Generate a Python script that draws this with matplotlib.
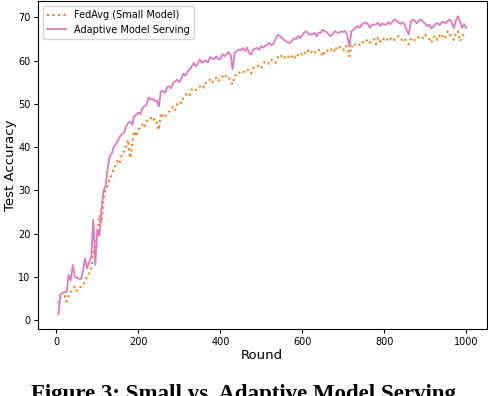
import numpy as np
import matplotlib
matplotlib.use("Agg")
import matplotlib.pyplot as plt

rounds = list(range(5, 1001, 5))

adaptive = [
    1.4, 6.0, 6.3, 6.6, 6.5, 10.5, 9.2, 12.8, 10.0, 9.8,
    9.6, 9.5, 11.5, 14.3, 12.0, 13.5, 14.6, 23.2, 12.8, 21.0,
    19.5, 25.5, 30.0, 31.0, 35.0, 37.9, 38.5, 40.0, 40.8, 41.5,
    42.5, 43.0, 43.3, 44.8, 45.6, 46.0, 45.2, 47.2, 47.5, 48.0,
    47.6, 49.0, 49.5, 49.8, 51.5, 51.0, 51.2, 50.6, 50.8, 49.4,
    52.9, 53.0, 52.5, 53.8, 54.1, 53.6, 54.9, 55.2, 55.6, 55.0,
    55.8, 57.0, 56.5, 57.5, 58.0, 58.6, 59.5, 58.7, 59.2, 60.3,
    59.5, 59.9, 60.0, 59.6, 60.8, 60.6, 60.3, 61.0, 60.4, 60.3,
    61.5, 61.0, 61.4, 62.0, 61.4, 58.0, 61.8, 62.2, 62.6, 62.4,
    62.9, 62.2, 63.0, 61.8, 61.4, 62.5, 62.8, 63.0, 62.5, 63.4,
    63.0, 63.5, 63.7, 64.1, 63.5, 64.0, 65.0, 66.0, 65.7, 65.3,
    64.8, 64.5, 64.2, 64.1, 64.6, 65.2, 65.0, 65.7, 65.2, 66.0,
    66.5, 66.8, 66.2, 66.0, 66.1, 66.4, 65.6, 66.5, 66.4, 67.2,
    66.8, 66.6, 65.9, 65.7, 66.2, 66.8, 66.5, 66.4, 66.8, 66.6,
    66.9, 65.8, 63.2, 66.8, 67.2, 67.6, 68.0, 67.6, 68.3, 68.7,
    68.8, 68.5, 67.6, 68.2, 68.4, 68.3, 68.8, 68.0, 68.6, 68.4,
    68.3, 68.9, 68.4, 69.0, 69.5, 69.2, 68.8, 68.5, 68.9, 68.3,
    67.0, 66.1, 69.0, 69.5, 69.2, 68.6, 69.3, 69.5, 69.0, 68.5,
    68.0, 68.3, 67.5, 67.8, 68.5, 68.7, 68.2, 68.8, 69.0, 68.6,
    69.2, 69.5, 68.8, 67.5, 69.3, 70.3, 69.0, 67.6, 68.4, 67.6,
]

fedavg_small = [
    3.9, 5.5, 5.4, 5.6, 4.3, 6.0, 6.5, 7.0, 7.8, 6.8,
    7.5, 7.7, 8.3, 8.9, 10.3, 10.8, 12.0, 15.8, 17.5, 20.1,
    24.3, 22.5, 27.8, 30.5, 31.0, 32.8, 33.5, 35.2, 35.8, 37.1,
    36.5, 38.6, 39.0, 40.2, 41.7, 37.5, 40.5, 43.7, 42.5, 44.0,
    44.8, 45.2, 44.5, 46.0, 46.2, 46.8, 46.0, 46.6, 45.6, 44.0,
    47.9, 47.2, 46.8, 47.9, 48.2, 48.8, 49.4, 48.6, 50.0, 50.6,
    50.2, 51.5, 52.0, 52.5, 52.0, 53.3, 53.7, 53.2, 53.7, 54.0,
    54.5, 53.8, 55.0, 55.4, 55.6, 54.8, 55.8, 56.0, 55.2, 56.0,
    56.4, 55.9, 56.6, 56.2, 55.3, 54.5, 56.3, 56.8, 57.4, 56.9,
    57.2, 57.8, 58.0, 57.6, 57.0, 58.2, 58.8, 58.7, 59.0, 58.4,
    59.4, 59.9, 59.6, 59.3, 60.2, 60.0, 59.5, 60.7, 61.4, 61.0,
    60.4, 61.2, 60.8, 61.4, 61.0, 60.3, 61.5, 61.2, 61.8, 61.4,
    62.0, 61.5, 62.4, 62.6, 61.6, 62.0, 61.8, 62.5, 62.2, 61.0,
    62.3, 62.2, 62.8, 62.5, 63.0, 62.0, 63.4, 63.2, 63.0, 62.4,
    63.5, 63.0, 61.0, 63.4, 63.0, 63.8, 64.1, 63.6, 64.4, 64.0,
    64.5, 64.9, 64.2, 64.6, 65.0, 63.8, 65.3, 64.4, 65.2, 64.9,
    65.3, 64.5, 65.0, 65.5, 64.8, 65.2, 65.7, 65.0, 64.8, 65.2,
    64.1, 63.8, 65.0, 65.3, 64.6, 65.1, 65.5, 65.7, 65.2, 66.0,
    65.3, 65.0, 64.1, 65.4, 65.8, 64.8, 65.7, 66.2, 65.0, 65.5,
    66.8, 66.0, 65.4, 64.8, 66.5, 66.8, 64.5, 65.6, 66.2, 65.7,
]

xticks = [0, 200, 400, 600, 800, 1000]
yticks = [0, 10, 20, 30, 40, 50, 60, 70]

fig = plt.figure(figsize=(4.88, 3.96), dpi=100)
ax = fig.add_axes([0.078, 0.169, 0.919, 0.828])

ax.plot(rounds, fedavg_small, linestyle=':', color='#ff7f0e', linewidth=1.5,
        label='FedAvg (Small Model)')
ax.plot(rounds, adaptive, linestyle='-', color='#e377c2', linewidth=1.3,
        label='Adaptive Model Serving')

ax.set_xticks(xticks)
ax.set_yticks(yticks)
ax.tick_params(labelsize=7, length=3, width=0.8, pad=2.5)
ax.set_xlabel('Round', fontsize=9.5, labelpad=2)
ax.set_ylabel('Test Accuracy', fontsize=9.5, labelpad=1)
ax.legend(loc='upper left', fontsize=7, frameon=True, handlelength=2.0)

fig.text(0.063, 0.031, 'Figure 3: Small vs. Adaptive Model Serving',
         fontsize=16.5, fontweight='bold', family='Liberation Serif',
         ha='left', va='top')

fig.savefig('out.png', dpi=100)
